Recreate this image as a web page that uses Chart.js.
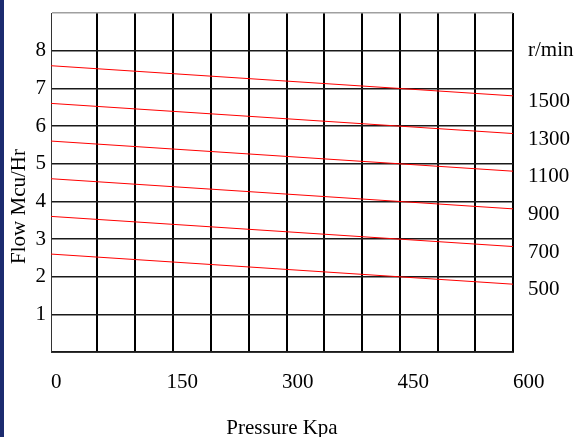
<!DOCTYPE html>
<html>
<head>
<meta charset="utf-8">
<script src="https://cdn.jsdelivr.net/npm/chart.js@4.4.1/dist/chart.umd.min.js"></script>
<style>
  body { margin: 0; background: #fff; }
  #wrap { position: relative; width: 576px; height: 437px; }
  #strip { position: absolute; left: 0; top: 0; width: 4px; height: 437px; background: #1c2b6f; }
</style>
</head>
<body>
<div id="wrap">
  <canvas id="flowChart" width="576" height="437"></canvas>
  <div id="strip"></div>
</div>
<script>
// pressure range and tick labels (kPa)
const pressureRange = [0, 600];
const pressureTicks = [0, 150, 300, 450, 600];
// vertical grid lines as drawn in the original (kPa)
const gridPressure = [60, 109, 158, 208, 257, 306, 355, 404, 453, 502, 551, 600];
// flow axis
const flowTicks = [0, 1, 2, 3, 4, 5, 6, 7, 8, 9];
// speed curves: flow at 0 kPa and at 600 kPa
const speeds = ['1500', '1300', '1100', '900', '700', '500'];
const flowAtStart = [7.6, 6.6, 5.6, 4.6, 3.6, 2.6];
const flowAtEnd = [6.8, 5.8, 4.8, 3.8, 2.8, 1.8];
const speedUnit = 'r/min';
const xTitle = 'Pressure Kpa';
const yTitle = 'Flow Mcu/Hr';

Chart.defaults.font.family = '"Liberation Serif", "Times New Roman", serif';
Chart.defaults.font.size = 21;
Chart.defaults.color = '#000';

const datasets = speeds.map((s, i) => ({
  label: s,
  data: [{ x: pressureRange[0], y: flowAtStart[i] }, { x: pressureRange[1], y: flowAtEnd[i] }],
  borderColor: '#ff0000',
  borderWidth: 1,
  pointRadius: 0,
  fill: false
}));

// right side labels sit just under the end of each curve
const rightTicks = [{ value: 8, label: speedUnit }].concat(
  speeds.map((s, i) => ({ value: flowAtEnd[i] - 0.15, label: s }))
);

const yTitlePlugin = {
  id: 'yTitle',
  afterDraw(chart) {
    const ctx = chart.ctx;
    const a = chart.chartArea;
    ctx.save();
    ctx.translate(19, (a.top + a.bottom) / 2 + 24);
    ctx.rotate(-Math.PI / 2);
    ctx.font = '21px "Liberation Serif", serif';
    ctx.fillStyle = '#000';
    ctx.textAlign = 'center';
    ctx.textBaseline = 'middle';
    ctx.fillText(yTitle, 0, 0);
    ctx.restore();
  }
};

const noVPad = s => { s.paddingTop = 0; s.paddingBottom = 0; };

new Chart(document.getElementById('flowChart'), {
  type: 'line',
  data: { datasets: datasets },
  plugins: [yTitlePlugin],
  options: {
    responsive: false,
    animation: false,
    layout: { padding: { top: 13, left: 0, right: 0, bottom: 0 } },
    plugins: { legend: { display: false }, tooltip: { enabled: false } },
    scales: {
      x: {
        type: 'linear',
        position: 'bottom',
        min: pressureRange[0],
        max: pressureRange[1],
        afterBuildTicks: s => { s.ticks = pressureTicks.map(v => ({ value: v })); },
        afterFit: s => { s.height = 85; s.paddingLeft = 0; s.paddingRight = 0; },
        grid: { display: false, drawTicks: false },
        border: { display: true, color: '#333', width: 1 },
        ticks: { align: 'start', padding: 18, maxRotation: 0, autoSkip: false },
        title: { display: true, text: xTitle, padding: { top: 0, bottom: -4 } }
      },
      xg: {
        type: 'linear',
        position: 'top',
        min: pressureRange[0],
        max: pressureRange[1],
        afterBuildTicks: s => { s.ticks = gridPressure.map(v => ({ value: v })); },
        afterFit: s => { s.height = 0; s.paddingLeft = 0; s.paddingRight = 0; },
        grid: { color: '#000', lineWidth: 2, drawTicks: false },
        border: { display: false },
        ticks: { display: false }
      },
      y: {
        position: 'left',
        min: 0,
        max: 9,
        afterBuildTicks: s => { s.ticks = flowTicks.map(v => ({ value: v })); },
        afterFit: s => { s.width = 51; noVPad(s); },
        grid: {
          drawTicks: false,
          lineWidth: 1.5,
          color: c => (c.tick && c.tick.value === 9 ? '#a0a0a0' : '#1a1a1a')
        },
        border: { display: true, color: '#333', width: 1 },
        ticks: {
          padding: 5,
          callback: v => (v >= 1 && v <= 8 ? String(v) : '')
        }
      },
      y2: {
        position: 'right',
        min: 0,
        max: 9,
        afterBuildTicks: s => { s.ticks = rightTicks.map(t => ({ value: t.value })); },
        afterFit: s => { s.width = 63; noVPad(s); },
        grid: { display: false, drawTicks: false },
        border: { display: false },
        ticks: {
          padding: 15,
          autoSkip: false,
          callback: (v, i) => rightTicks[i].label
        }
      }
    }
  }
});
</script>
</body>
</html>
